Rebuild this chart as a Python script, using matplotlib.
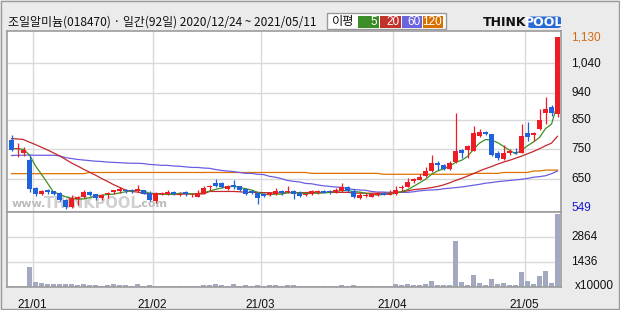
import matplotlib
matplotlib.use('Agg')
import matplotlib.pyplot as plt
from matplotlib.patches import Rectangle, FancyBboxPatch

# ---------------- data ----------------
opens = [782, 750, 738, 713, 620, 598, 612, 608, 603, 579,
         555, 583, 589, 607, 599, 586, 598, 605, 608, 613,
         611, 608, 612, 602, 577, 600, 601, 607, 598, 607,
         595, 590, 600, 624, 635, 637, 615, 631, 626, 615,
         609, 603, 600, 595, 600, 611, 605, 609, 603, 597,
         598, 605, 611, 611, 607, 610, 624, 611, 587, 594,
         591, 596, 603, 598, 599, 621, 624, 643, 647, 661,
         676, 705, 697, 685, 707, 748, 749, 745, 796, 808,
         802, 737, 718, 736, 742, 738, 805, 799, 820, 873,
         892, 869]
highs = [797, 771, 758, 730, 623, 614, 615, 611, 607, 584,
         596, 593, 612, 611, 601, 601, 606, 614, 622, 616,
         618, 631, 614, 609, 605, 607, 612, 611, 605, 610,
         604, 612, 626, 629, 650, 641, 630, 647, 628, 619,
         612, 607, 603, 607, 620, 613, 626, 612, 609, 601,
         612, 612, 612, 613, 620, 635, 626, 616, 603, 604,
         603, 607, 605, 612, 626, 631, 652, 653, 667, 691,
         732, 712, 700, 712, 872, 752, 765, 829, 818, 812,
         802, 745, 764, 752, 756, 834, 842, 808, 885, 926,
         900, 1130]
lows = [745, 723, 726, 606, 594, 597, 600, 596, 575, 549,
        552, 563, 586, 593, 578, 578, 586, 601, 603, 604,
        603, 605, 598, 575, 569, 597, 597, 597, 594, 592,
        588, 588, 600, 610, 622, 619, 612, 615, 608, 597,
        600, 567, 591, 592, 597, 597, 603, 584, 590, 593,
        596, 601, 603, 601, 603, 607, 607, 586, 584, 589,
        589, 593, 595, 595, 597, 610, 622, 635, 645, 657,
        673, 682, 682, 680, 704, 721, 721, 745, 790, 799,
        728, 715, 715, 732, 733, 738, 779, 779, 815, 835,
        861, 860]
closes = [749, 754, 749, 617, 600, 610, 605, 600, 580, 556,
          585, 589, 607, 597, 587, 596, 604, 612, 617, 608,
          609, 615, 601, 578, 602, 603, 607, 601, 599, 598,
          597, 604, 620, 626, 626, 622, 626, 623, 612, 600,
          603, 587, 594, 602, 610, 603, 610, 598, 594, 598,
          609, 610, 603, 606, 614, 622, 609, 589, 596, 596,
          599, 602, 597, 600, 612, 623, 640, 650, 658, 676,
          704, 698, 684, 703, 743, 739, 761, 804, 808, 802,
          731, 721, 738, 745, 738, 795, 793, 804, 849, 887,
          873, 1130]
volumes = [75, 75, 75, 1150, 290, 250, 175, 175, 175, 175,
           175, 120, 175, 120, 120, 80, 120, 175, 120, 120,
           80, 175, 80, 120, 75, 75, 75, 75, 75, 75,
           75, 75, 120, 120, 175, 120, 80, 175, 80, 120,
           80, 120, 80, 120, 120, 80, 120, 120, 75, 75,
           75, 75, 75, 75, 75, 120, 75, 120, 75, 75,
           75, 75, 75, 80, 190, 133, 190, 133, 133, 190,
           362, 133, 133, 133, 2645, 285, 114, 685, 228, 114,
           457, 171, 228, 114, 114, 856, 343, 171, 628, 913,
           228, 4168]
ma5 = [753, 752, 750, 731, 694, 666, 636, 606, 599, 590,
       585, 582, 583, 587, 593, 595, 598, 599, 603, 607,
       610, 612, 610, 602, 601, 600, 598, 598, 602, 602,
       600, 600, 604, 609, 615, 620, 624, 625, 622, 617,
       613, 605, 599, 597, 599, 599, 604, 605, 603, 601,
       602, 602, 603, 605, 608, 611, 611, 608, 606, 602,
       598, 596, 598, 599, 602, 607, 614, 625, 637, 649,
       666, 677, 684, 693, 706, 713, 726, 750, 771, 783,
       781, 773, 760, 747, 735, 747, 762, 775, 790, 820,
       835, 903]
ma20 = [786, 785, 783, 774, 766, 757, 748, 738, 728, 716,
        704, 694, 683, 673, 663, 652, 642, 631, 622, 613,
        608, 606, 601, 600, 599, 599, 599, 599, 599, 599,
        599, 599, 600, 608, 608, 608, 608, 608, 607, 605,
        605, 605, 604, 604, 603, 603, 604, 604, 604, 604,
        605, 605, 605, 605, 605, 605, 605, 603, 602, 602,
        602, 602, 602, 602, 604, 607, 610, 614, 616, 618,
        621, 625, 630, 637, 645, 652, 660, 668, 677, 685,
        692, 700, 707, 713, 720, 727, 735, 743, 752, 762,
        771, 794]
ma60 = [729, 730, 730, 731, 730, 730, 730, 730, 728, 722,
        719, 716, 714, 712, 710, 709, 707, 706, 705, 704,
        703, 703, 702, 699, 698, 696, 696, 694, 693, 691,
        689, 689, 687, 686, 682, 679, 677, 675, 672, 669,
        669, 666, 665, 659, 656, 651, 645, 642, 640, 635,
        634, 630, 627, 625, 623, 622, 617, 615, 613, 612,
        608, 606, 606, 605, 605, 605, 605, 607, 610, 612,
        613, 614, 617, 619, 621, 623, 626, 629, 632, 636,
        638, 641, 643, 645, 647, 649, 652, 656, 658, 661,
        668, 677]
ma120 = [668] * 13 + [672] * 37 + [669] * 12 + [666] * 15 + [669] * 5 + [672] * 5 + [677] * 2 + [680] * 3

month_labels = ["21/01", "21/02", "21/03", "21/04", "21/05"]
month_first_idx = [4, 24, 42, 64, 86]
price_ticks = [650, 750, 850, 940, 1040]
price_tick_labels = ["650", "750", "850", "940", "1,040"]
vol_ticks = [1436, 2864]
vol_tick_labels = ["1436", "2864"]
max_price, min_price = 1130, 549
title = "조일알미늄(018470) · 일간(92일) 2020/12/24 ~ 2021/05/11"
ma_names = ["5", "20", "60", "120"]

# ---------------- styling ----------------
W, H = 620, 310
BG = '#ebebeb'
RED = '#ee1c24'
BLUE = '#1f62dc'
VOLC = '#a2a9c0'
GRID = '#d9d9d9'
FRAME = '#9c9c9c'
MA_COL = ['#3f8f22', '#c3282c', '#6a5ee0', '#e07000']
LEG_COL = ['#3c8c28', '#c0322a', '#6a64e0', '#d87000']

fig = plt.figure(figsize=(W / 100, H / 100), dpi=100, facecolor=BG)

def fx(px):
    return px / W

def fy(py):
    return 1 - py / H

left, right = 7.3, 561.0
p_top, p_bot = 31.3, 212.0
v_bot = 287.0
ax = fig.add_axes([fx(left), fy(p_bot), fx(right - left), (p_bot - p_top) / H])
axv = fig.add_axes([fx(left), fy(v_bot), fx(right - left), (v_bot - p_bot) / H])

n = len(closes)
xs = list(range(n))
xlim = (-0.7, 91.58)

for a in (ax, axv):
    a.set_facecolor('white')
    a.set_xlim(*xlim)
    for s in a.spines.values():
        s.set_color(FRAME)
        s.set_linewidth(1.2)
    a.tick_params(left=False, right=False, top=False, bottom=False,
                  labelleft=False, labelright=False, labelbottom=False)
    for m in month_first_idx:
        a.axvline(m - 0.5, color=GRID, lw=1.0, zorder=0)

ax.set_ylim(538.8, 1147.8)
for t in price_ticks:
    ax.axhline(t, color=GRID, lw=1.0, zorder=0)

axv.set_ylim(0, 4300)
for t in vol_ticks:
    axv.axhline(t, color=GRID, lw=1.0, zorder=0)

# watermark (behind the candles)
wm = dict(transform=fig.transFigure, family='DejaVu Sans', fontweight='bold',
          va='center', zorder=1)
ax.text(fx(46), fy(204), "www.", color='#bcbcbc', fontsize=8, ha='right', **wm)
ax.text(fx(92), fy(203), "THINKPOOL", color='#d0d0d0', fontsize=10.5, ha='center', **wm)
ax.text(fx(138), fy(204), ".com", color='#bcbcbc', fontsize=8, ha='left', **wm)

# moving averages
for vals, col in zip([ma120, ma60, ma20, ma5], [MA_COL[3], MA_COL[2], MA_COL[1], MA_COL[0]]):
    ax.plot(xs, vals, color=col, lw=0.9, zorder=2)

# candles
bw = 0.83
min_h = 2.6
for i in xs:
    o, h, l, c = opens[i], highs[i], lows[i], closes[i]
    col = RED if c >= o else BLUE
    ax.vlines(i, l, h, color=col, lw=0.9, zorder=3)
    bottom = min(o, c)
    height = max(abs(c - o), min_h)
    if abs(c - o) < min_h:
        bottom = (o + c) / 2 - min_h / 2
    ax.bar(i, height, bw, bottom=bottom, color=col, linewidth=0, zorder=4)

# volume
axv.bar(xs, volumes, 0.83, color=VOLC, linewidth=0, zorder=2)

# right-side labels
lab_font = dict(family='Liberation Sans', fontsize=8.5, va='center', ha='left')
ytr = ax.get_yaxis_transform()
xr = (571 - left) / (right - left)
for t, lab in zip(price_ticks, price_tick_labels):
    ax.text(xr, t, lab, transform=ytr, color='#111111', clip_on=False, **lab_font)
ax.text(xr, max_price - 4, "1,130", transform=ytr, color='#d26a12', clip_on=False, **lab_font)
ax.text(xr, min_price + 4, str(min_price), transform=ytr, color='#1a1ad0', clip_on=False, **lab_font)
vtr = axv.get_yaxis_transform()
for t, lab in zip(vol_ticks, vol_tick_labels):
    axv.text(xr, t, lab, transform=vtr, color='#111111', clip_on=False, **lab_font)
fig.text(fx(575), fy(286), "x10000", color='#111111', family='Liberation Sans',
         fontsize=8.5, va='center', ha='left')

# x labels
axv.set_xticks([m - 0.5 for m in month_first_idx])
axv.set_xticklabels(month_labels, family='Liberation Sans', fontsize=8.5, color='#111111')
axv.tick_params(labelbottom=True, pad=5.5)

# header
fig.text(fx(8), fy(22), title, family=['Noto Sans CJK KR', 'DejaVu Sans'],
         fontsize=8.6, color='#111111', ha='left', va='center')

fig.patches.append(Rectangle((fx(327), fy(29)), fx(119), (29 - 13) / H, transform=fig.transFigure,
                             facecolor='white', edgecolor='#9a9a9a', lw=1.0))
fig.text(fx(343.5), fy(21.5), "이평", family=['Noto Sans CJK KR', 'DejaVu Sans'],
         fontsize=8.8, color='#111111', ha='center', va='center')
boxes = [(358, 379), (380, 401), (402, 422), (423, 443)]
for (x0, x1), col, nm in zip(boxes, LEG_COL, ma_names):
    fig.patches.append(Rectangle((fx(x0), fy(28.3)), fx(x1 - x0), (28.3 - 15.7) / H,
                                 transform=fig.transFigure, facecolor=col, edgecolor='none'))
    fig.text(fx(x1 - 1.5), fy(22), nm, family='Liberation Sans', fontsize=8.5,
             color='white', ha='right', va='center')

# logo
fig.text(fx(526), fy(22), "THINK", family='DejaVu Sans', fontsize=9, fontweight='bold',
         color='#111111', ha='right', va='center')
fig.patches.append(FancyBboxPatch((fx(528), fy(28)), fx(33), 11.5 / H,
                                  boxstyle='round,pad=0,rounding_size=0.006',
                                  transform=fig.transFigure, facecolor='#2a6ad6', edgecolor='none'))
fig.text(fx(544.5), fy(22), "POOL", family='DejaVu Sans', fontsize=9, fontweight='bold',
         color='white', ha='center', va='center')

# outer border
fig.patches.append(Rectangle((0.001, 0.002), 0.997, 0.995, transform=fig.transFigure,
                             facecolor='none', edgecolor='#9a9a9a', lw=1.0))

fig.savefig('out.png', dpi=100, facecolor=BG)
